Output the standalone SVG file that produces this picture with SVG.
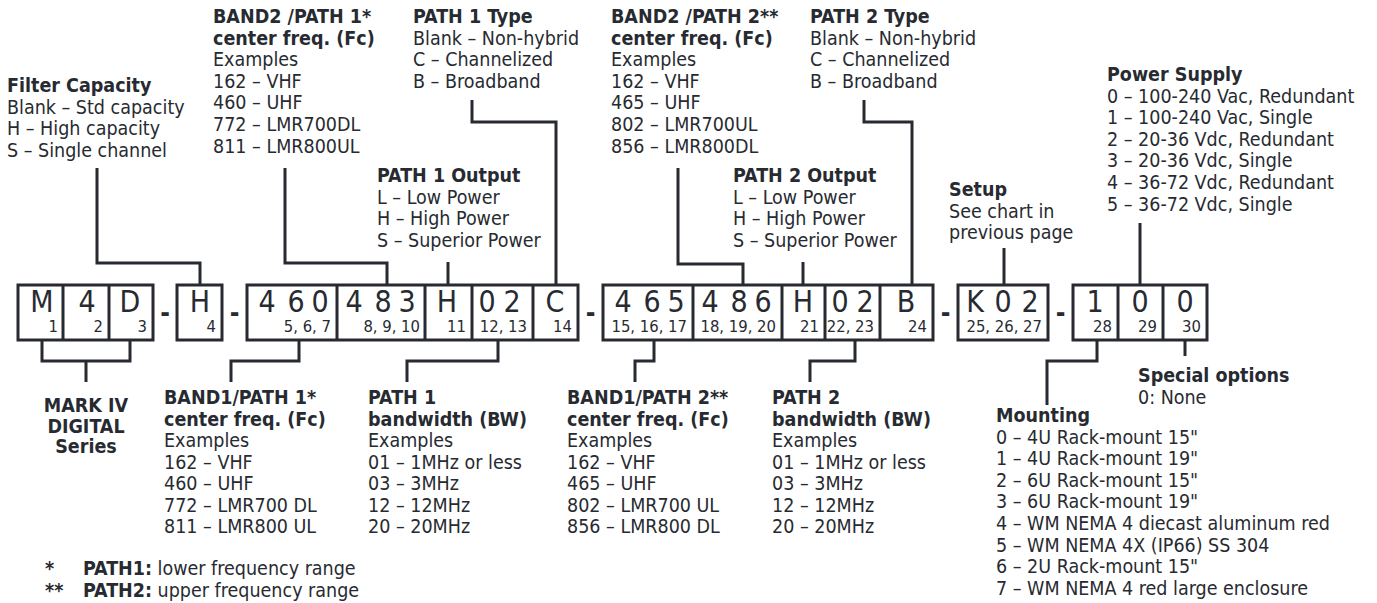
<svg xmlns="http://www.w3.org/2000/svg" width="1377" height="603" viewBox="0 0 1377 603">
<style>
text{font-family:"DejaVu Sans Condensed","DejaVu Sans",sans-serif;font-stretch:condensed;fill:#272b31}
.t{font-size:19.5px}
.b{font-weight:bold}
.big{font-size:30px;text-anchor:middle}
.idx{font-size:16.5px;text-anchor:end}
.dash{font-size:26px;font-weight:bold;text-anchor:middle}
.box{fill:#fff;stroke:#272b31;stroke-width:3}
.div{stroke:#272b31;stroke-width:3}
.con{fill:none;stroke:#272b31;stroke-width:3;stroke-linejoin:miter}
</style>
<rect width="1377" height="603" fill="#fff"/>
<g id="connectors">
<path class="con" d="M97,168 V263 H200 V285"/>
<path class="con" d="M285,168 V263 H387 V285"/>
<path class="con" d="M472,100 V122 H556 V285"/>
<path class="con" d="M448,262 V285"/>
<path class="con" d="M678,168 V264 H743 V285"/>
<path class="con" d="M864,100 V122 H912 V285"/>
<path class="con" d="M803,262 V285"/>
<path class="con" d="M1004,248 V285"/>
<path class="con" d="M1140,223 V285"/>
<path class="con" d="M42,340 V361 H130 V340 M86,361 V382"/>
<path class="con" d="M299,340 V361 H231 V382"/>
<path class="con" d="M498,340 V361 H407 V382"/>
<path class="con" d="M654,340 V361 H635 V382"/>
<path class="con" d="M855,340 V361 H810 V382"/>
<path class="con" d="M1097,340 V361 H1047 V405"/>
<path class="con" d="M1185,340 V356"/>
</g>
<g id="code-boxes">
<g id="grp-series"><rect class="box" x="18" y="285" width="135" height="55"/><line class="div" x1="63" y1="285" x2="63" y2="340"/><line class="div" x1="109" y1="285" x2="109" y2="340"/></g>
<g id="grp-cap"><rect class="box" x="177" y="285" width="45" height="55"/></g>
<g id="grp-path1"><rect class="box" x="247" y="285" width="331" height="55"/><line class="div" x1="337" y1="285" x2="337" y2="340"/><line class="div" x1="425" y1="285" x2="425" y2="340"/><line class="div" x1="472" y1="285" x2="472" y2="340"/><line class="div" x1="533" y1="285" x2="533" y2="340"/></g>
<g id="grp-path2"><rect class="box" x="603" y="285" width="330" height="55"/><line class="div" x1="693" y1="285" x2="693" y2="340"/><line class="div" x1="782" y1="285" x2="782" y2="340"/><line class="div" x1="825" y1="285" x2="825" y2="340"/><line class="div" x1="880" y1="285" x2="880" y2="340"/></g>
<g id="grp-setup"><rect class="box" x="958" y="285" width="90" height="55"/></g>
<g id="grp-tail"><rect class="box" x="1073" y="285" width="134" height="55"/><line class="div" x1="1118" y1="285" x2="1118" y2="340"/><line class="div" x1="1163" y1="285" x2="1163" y2="340"/></g>
</g>
<g id="pos-1"><text class="big" x="42" y="312">M</text><text class="idx" x="58" y="332">1</text></g>
<g id="pos-2"><text class="big" x="87" y="312">4</text><text class="idx" x="103" y="332">2</text></g>
<g id="pos-3"><text class="big" x="130" y="312">D</text><text class="idx" x="147" y="332">3</text></g>
<g id="pos-4"><text class="big" x="200" y="312">H</text><text class="idx" x="216" y="332">4</text></g>
<g id="pos-5-7"><text class="big" x="267 296 320" y="312">460</text><text class="idx" x="331" y="332">5, 6, 7</text></g>
<g id="pos-8-10"><text class="big" x="354 383 407" y="312">483</text><text class="idx" x="420" y="332">8, 9, 10</text></g>
<g id="pos-11"><text class="big" x="447" y="312">H</text><text class="idx" x="466" y="332">11</text></g>
<g id="pos-12-13"><text class="big" x="487 512" y="312">02</text><text class="idx" x="527" y="332">12, 13</text></g>
<g id="pos-14"><text class="big" x="555" y="312">C</text><text class="idx" x="572" y="332">14</text></g>
<g id="pos-15-17"><text class="big" x="623 652 676" y="312">465</text><text class="idx" x="687" y="332">15, 16, 17</text></g>
<g id="pos-18-20"><text class="big" x="710 739 763" y="312">486</text><text class="idx" x="776" y="332">18, 19, 20</text></g>
<g id="pos-21"><text class="big" x="803" y="312">H</text><text class="idx" x="819" y="332">21</text></g>
<g id="pos-22-23"><text class="big" x="840 865" y="312">02</text><text class="idx" x="874" y="332">22, 23</text></g>
<g id="pos-24"><text class="big" x="906" y="312">B</text><text class="idx" x="927" y="332">24</text></g>
<g id="pos-25-27"><text class="big" x="975 1003 1030" y="312">K02</text><text class="idx" x="1042" y="332">25, 26, 27</text></g>
<g id="pos-28"><text class="big" x="1095" y="312">1</text><text class="idx" x="1112" y="332">28</text></g>
<g id="pos-29"><text class="big" x="1140" y="312">0</text><text class="idx" x="1157" y="332">29</text></g>
<g id="pos-30"><text class="big" x="1185" y="312">0</text><text class="idx" x="1201" y="332">30</text></g>
<g id="dashes"><text class="dash" x="165" y="322">-</text><text class="dash" x="234.5" y="322">-</text><text class="dash" x="590.5" y="322">-</text><text class="dash" x="945.5" y="322">-</text><text class="dash" x="1060.5" y="322">-</text></g>
<g id="filter-capacity"><text class="t" x="7" y="92"><tspan class="b">Filter Capacity</tspan><tspan x="7" dy="21.6">Blank – Std capacity</tspan><tspan x="7" dy="21.6">H – High capacity</tspan><tspan x="7" dy="21.6">S – Single channel</tspan></text></g>
<g id="band2-path1"><text class="t" x="213" y="23"><tspan class="b">BAND2 /PATH 1*</tspan><tspan class="b" x="213" dy="21.6">center freq. (Fc)</tspan><tspan x="213" dy="21.6">Examples</tspan><tspan x="213" dy="21.6">162 – VHF</tspan><tspan x="213" dy="21.6">460 – UHF</tspan><tspan x="213" dy="21.6">772 – LMR700DL</tspan><tspan x="213" dy="21.6">811 – LMR800UL</tspan></text></g>
<g id="path1-type"><text class="t" x="413" y="23"><tspan class="b">PATH 1 Type</tspan><tspan x="413" dy="21.6">Blank – Non-hybrid</tspan><tspan x="413" dy="21.6">C – Channelized</tspan><tspan x="413" dy="21.6">B – Broadband</tspan></text></g>
<g id="path1-output"><text class="t" x="377" y="182"><tspan class="b">PATH 1 Output</tspan><tspan x="377" dy="21.6">L – Low Power</tspan><tspan x="377" dy="21.6">H – High Power</tspan><tspan x="377" dy="21.6">S – Superior Power</tspan></text></g>
<g id="band2-path2"><text class="t" x="611" y="23"><tspan class="b">BAND2 /PATH 2**</tspan><tspan class="b" x="611" dy="21.6">center freq. (Fc)</tspan><tspan x="611" dy="21.6">Examples</tspan><tspan x="611" dy="21.6">162 – VHF</tspan><tspan x="611" dy="21.6">465 – UHF</tspan><tspan x="611" dy="21.6">802 – LMR700UL</tspan><tspan x="611" dy="21.6">856 – LMR800DL</tspan></text></g>
<g id="path2-type"><text class="t" x="810" y="23"><tspan class="b">PATH 2 Type</tspan><tspan x="810" dy="21.6">Blank – Non-hybrid</tspan><tspan x="810" dy="21.6">C – Channelized</tspan><tspan x="810" dy="21.6">B – Broadband</tspan></text></g>
<g id="path2-output"><text class="t" x="733" y="182"><tspan class="b">PATH 2 Output</tspan><tspan x="733" dy="21.6">L – Low Power</tspan><tspan x="733" dy="21.6">H – High Power</tspan><tspan x="733" dy="21.6">S – Superior Power</tspan></text></g>
<g id="setup"><text class="t" x="949" y="196"><tspan class="b">Setup</tspan><tspan x="949" dy="21.6">See chart in</tspan><tspan x="949" dy="21.6">previous page</tspan></text></g>
<g id="power-supply"><text class="t" x="1107" y="81"><tspan class="b">Power Supply</tspan><tspan x="1107" dy="21.6">0 – 100-240 Vac, Redundant</tspan><tspan x="1107" dy="21.6">1 – 100-240 Vac, Single</tspan><tspan x="1107" dy="21.6">2 – 20-36 Vdc, Redundant</tspan><tspan x="1107" dy="21.6">3 – 20-36 Vdc, Single</tspan><tspan x="1107" dy="21.6">4 – 36-72 Vdc, Redundant</tspan><tspan x="1107" dy="21.6">5 – 36-72 Vdc, Single</tspan></text></g>
<g id="series"><text class="t b" x="86" y="412" text-anchor="middle"><tspan>MARK IV</tspan><tspan x="86" dy="20.6">DIGITAL</tspan><tspan x="86" dy="20.6">Series</tspan></text></g>
<g id="band1-path1"><text class="t" x="164" y="404"><tspan class="b">BAND1/PATH 1*</tspan><tspan class="b" x="164" dy="21.5">center freq. (Fc)</tspan><tspan x="164" dy="21.5">Examples</tspan><tspan x="164" dy="21.5">162 – VHF</tspan><tspan x="164" dy="21.5">460 – UHF</tspan><tspan x="164" dy="21.5">772 – LMR700 DL</tspan><tspan x="164" dy="21.5">811 – LMR800 UL</tspan></text></g>
<g id="path1-bw"><text class="t" x="368" y="404"><tspan class="b">PATH 1</tspan><tspan class="b" x="368" dy="21.5">bandwidth (BW)</tspan><tspan x="368" dy="21.5">Examples</tspan><tspan x="368" dy="21.5">01 – 1MHz or less</tspan><tspan x="368" dy="21.5">03 – 3MHz</tspan><tspan x="368" dy="21.5">12 – 12MHz</tspan><tspan x="368" dy="21.5">20 – 20MHz</tspan></text></g>
<g id="band1-path2"><text class="t" x="567" y="404"><tspan class="b">BAND1/PATH 2**</tspan><tspan class="b" x="567" dy="21.5">center freq. (Fc)</tspan><tspan x="567" dy="21.5">Examples</tspan><tspan x="567" dy="21.5">162 – VHF</tspan><tspan x="567" dy="21.5">465 – UHF</tspan><tspan x="567" dy="21.5">802 – LMR700 UL</tspan><tspan x="567" dy="21.5">856 – LMR800 DL</tspan></text></g>
<g id="path2-bw"><text class="t" x="772" y="404"><tspan class="b">PATH 2</tspan><tspan class="b" x="772" dy="21.5">bandwidth (BW)</tspan><tspan x="772" dy="21.5">Examples</tspan><tspan x="772" dy="21.5">01 – 1MHz or less</tspan><tspan x="772" dy="21.5">03 – 3MHz</tspan><tspan x="772" dy="21.5">12 – 12MHz</tspan><tspan x="772" dy="21.5">20 – 20MHz</tspan></text></g>
<g id="special-options"><text class="t" x="1138" y="382"><tspan class="b">Special options</tspan><tspan x="1138" dy="21.5">0: None</tspan></text></g>
<g id="mounting"><text class="t" x="996" y="422"><tspan class="b">Mounting</tspan><tspan x="996" dy="21.6">0 – 4U Rack-mount 15"</tspan><tspan x="996" dy="21.6">1 – 4U Rack-mount 19"</tspan><tspan x="996" dy="21.6">2 – 6U Rack-mount 15"</tspan><tspan x="996" dy="21.6">3 – 6U Rack-mount 19"</tspan><tspan x="996" dy="21.6">4 – WM NEMA 4 diecast aluminum red</tspan><tspan x="996" dy="21.6">5 – WM NEMA 4X (IP66) SS 304</tspan><tspan x="996" dy="21.6">6 – 2U Rack-mount 15"</tspan><tspan x="996" dy="21.6">7 – WM NEMA 4 red large enclosure</tspan></text></g>
<g id="footnotes"><text class="t" x="45" y="575"><tspan class="b">*</tspan><tspan class="b" x="83">PATH1:</tspan><tspan> lower frequency range</tspan></text><text class="t" x="45" y="597"><tspan class="b">**</tspan><tspan class="b" x="83">PATH2:</tspan><tspan> upper frequency range</tspan></text></g>
</svg>
